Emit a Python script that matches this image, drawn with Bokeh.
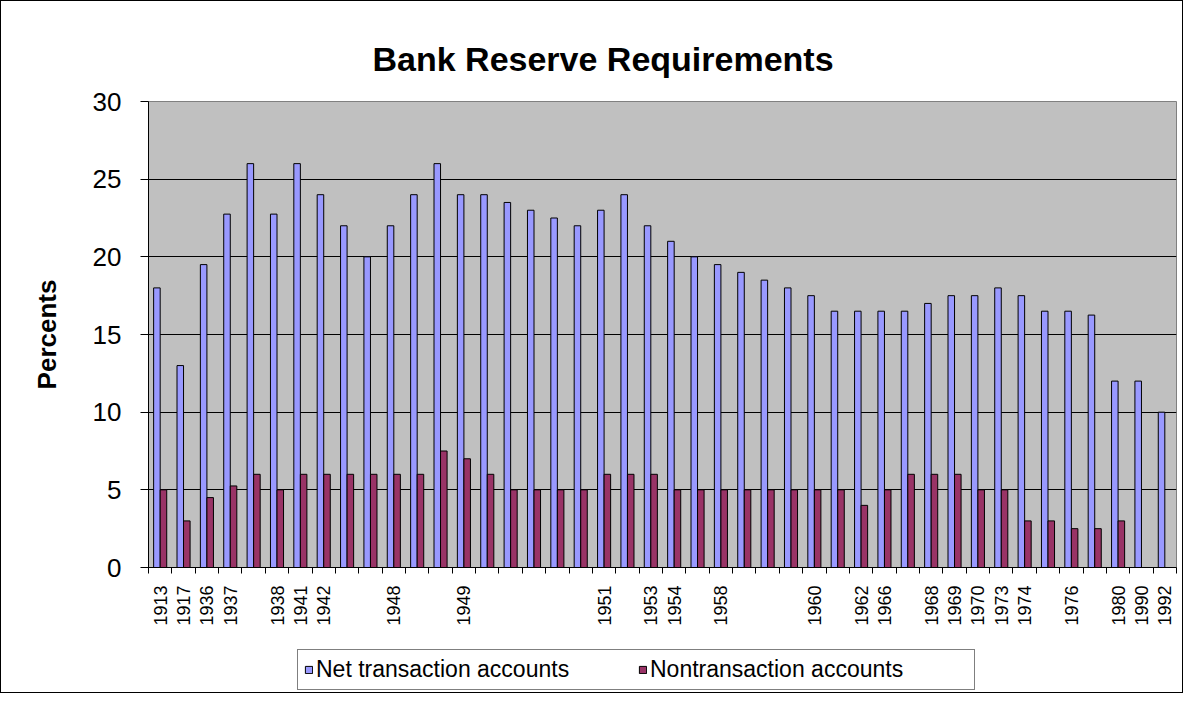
import math
from bokeh.plotting import figure
from bokeh.layouts import column
from bokeh.models import (ColumnDataSource, Range1d, FixedTicker, Legend, LegendItem)
from bokeh.embed import file_html
from bokeh.resources import INLINE

# ---- data ----
categories = ["1913", "1917", "1936", "1937", "", "1938", "1941", "1942", "", "", "1948",
              "", "", "1949", "", "", "", "", "", "1951", "", "1953", "1954", "", "1958",
              "", "", "", "1960", "", "1962", "1966", "", "1968", "1969", "1970", "1973",
              "1974", "", "1976", "", "1980", "1990", "1992"]
net_transaction = [18, 13, 19.5, 22.75, 26, 22.75, 26, 24, 22, 20, 22,
                   24, 26, 24, 24, 23.5, 23, 22.5, 22, 23, 24, 22, 21, 20, 19.5,
                   19, 18.5, 18, 17.5, 16.5, 16.5, 16.5, 16.5, 17, 17.5, 17.5, 18,
                   17.5, 16.5, 16.5, 16.25, 12, 12, 10]
nontransaction = [5, 3, 4.5, 5.25, 6, 5, 6, 6, 6, 6, 6,
                  6, 7.5, 7, 6, 5, 5, 5, 5, 6, 6, 6, 5, 5, 5,
                  5, 5, 5, 5, 5, 4, 5, 6, 6, 6, 5, 5,
                  3, 3, 2.5, 2.5, 3, None, None]
series_names = ["Net transaction accounts", "Nontransaction accounts"]
y_ticks = [0, 5, 10, 15, 20, 25, 30]

FONT = "Liberation Sans"
BLUE = "#9999FF"
PLUM = "#993366"
GRAY = "#C0C0C0"

n = len(categories)
idx = list(range(n))
bw = 0.28

src_net = ColumnDataSource(dict(x=[i - bw / 2 for i in idx], top=net_transaction))
nz = [i for i in idx if nontransaction[i] is not None]
src_non = ColumnDataSource(dict(x=[i + bw / 2 for i in nz], top=[nontransaction[i] for i in nz]))

p = figure(width=1181, height=645, output_backend="svg", toolbar_location=None,
           x_range=Range1d(-0.5, n - 0.5), y_range=Range1d(0, 30),
           min_border_left=147, min_border_right=6, min_border_top=100, min_border_bottom=79)

p.background_fill_color = GRAY
p.border_fill_color = "white"
p.outline_line_color = "#808080"

p.vbar(x="x", top="top", bottom=0, width=bw, source=src_net,
       fill_color=BLUE, line_color="black", line_width=1)
p.vbar(x="x", top="top", bottom=0, width=bw, source=src_non,
       fill_color=PLUM, line_color="black", line_width=1)

# title
p.title.text = "Bank Reserve Requirements"
p.title.text_font = FONT
p.title.text_font_size = "34px"
p.title.text_font_style = "bold"
p.title.align = "left"
p.title.offset = 224
p.title.standoff = 47
p.title.text_color = "black"

# x axis
labeled = [i for i in idx if categories[i]]
p.xaxis.ticker = FixedTicker(ticks=labeled, minor_ticks=[i - 0.5 for i in range(n + 1)])
p.xaxis.major_label_overrides = {i: categories[i] for i in labeled}
p.xaxis.major_label_orientation = math.pi / 2
p.xaxis.major_label_text_font = FONT
p.xaxis.major_label_text_font_size = "18px"
p.xaxis.major_label_text_color = "black"
p.xaxis.major_tick_out = 0
p.xaxis.major_tick_in = 0
p.xaxis.minor_tick_out = 6
p.xaxis.minor_tick_in = 0
p.xaxis.minor_tick_line_color = "black"
p.xaxis.axis_line_color = "black"
p.xaxis.major_label_standoff = 12
p.xgrid.grid_line_color = None

# y axis
p.yaxis.ticker = FixedTicker(ticks=y_ticks)
p.yaxis.axis_label = "Percents"
p.yaxis.axis_label_text_font = FONT
p.yaxis.axis_label_text_font_size = "26px"
p.yaxis.axis_label_text_font_style = "bold"
p.yaxis.axis_label_text_color = "black"
p.yaxis.axis_label_standoff = 28
p.yaxis.major_label_text_font = FONT
p.yaxis.major_label_text_font_size = "26px"
p.yaxis.major_label_text_color = "black"
p.yaxis.major_label_standoff = 19
p.yaxis.major_tick_out = 8
p.yaxis.major_tick_in = 0
p.yaxis.minor_tick_out = 0
p.yaxis.minor_tick_in = 0
p.yaxis.axis_line_color = "black"
p.yaxis.major_tick_line_color = "black"
p.ygrid.grid_line_color = "black"
p.ygrid.grid_line_width = 1

# legend strip below the chart (swatch proxies sit far outside the visible range)
lg = figure(width=1181, height=46, output_backend="svg", toolbar_location=None,
            x_range=Range1d(0, 1), y_range=Range1d(0, 1),
            x_axis_type=None, y_axis_type=None,
            min_border_left=0, min_border_right=0, min_border_top=0, min_border_bottom=0)
lg.outline_line_color = None
lg.background_fill_color = "white"
lg.border_fill_color = "white"
proxy = ColumnDataSource(dict(x=[0.5], top=[-50], bottom=[-60]))
k1 = lg.vbar(x="x", top="top", bottom="bottom", width=0.01, source=proxy,
             fill_color=BLUE, line_color="black", line_width=1)
k2 = lg.vbar(x="x", top="top", bottom="bottom", width=0.01, source=proxy,
             fill_color=PLUM, line_color="black", line_width=1)

legend = Legend(items=[LegendItem(label=series_names[0], renderers=[k1]),
                       LegendItem(label=series_names[1], renderers=[k2])],
                orientation="horizontal", location=(149, 2))
legend.label_text_font = FONT
legend.label_text_font_size = "23px"
legend.label_text_color = "black"
legend.glyph_width = 9
legend.glyph_height = 9
legend.label_height = 9
legend.label_standoff = 3
legend.spacing = 4
legend.padding = 6
legend.margin = 0
legend.label_width = 318
legend.border_line_color = "black"
legend.border_line_width = 1
legend.background_fill_color = "white"
legend.background_fill_alpha = 1
lg.add_layout(legend)

layout = column(p, lg, spacing=0)
layout.styles = {"border": "1px solid black"}

open("out.html", "w").write(file_html(layout, INLINE))
